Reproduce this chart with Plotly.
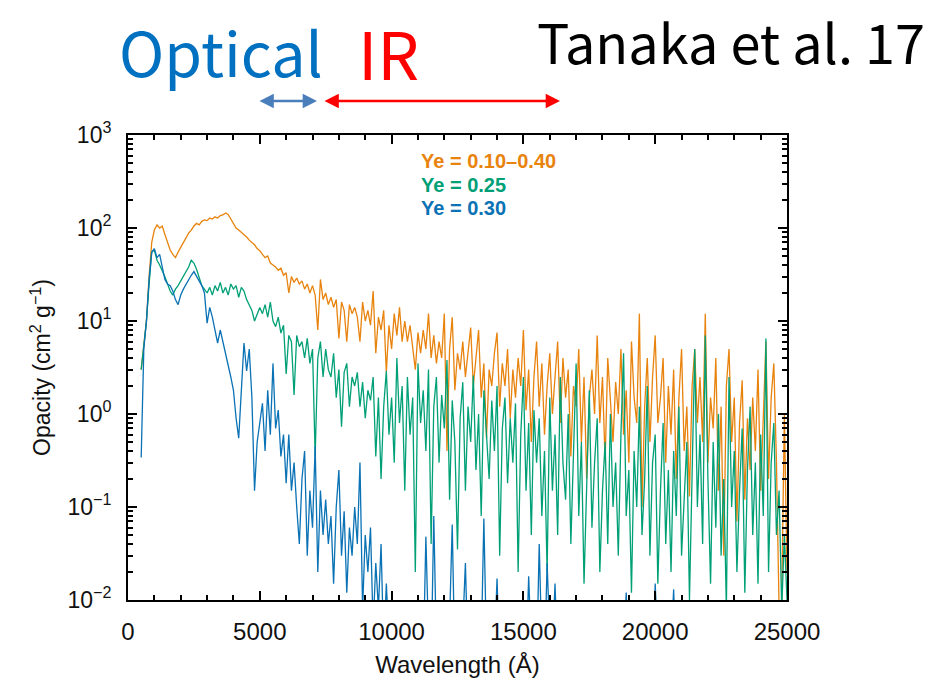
import plotly.graph_objects as go

# Wavelength sampling grid (Angstrom)
wavelength = list(range(500, 25001, 100))

# Opacity (cm^2 g^-1), Ye = 0.10-0.40 mixture
opacity_mix = [
    3, 6, 10, 30, 70, 95, 108, 100, 105, 85, 68,
    58, 52, 48, 55, 62, 70, 78, 88, 95, 105,
    112, 108, 118, 122, 120, 128, 125, 132, 128, 136,
    138, 145, 140, 125, 112, 100, 95, 90, 84, 80,
    74, 70, 66, 60, 57, 52, 48, 50, 42, 40,
    38, 35, 37, 31, 33, 20, 30, 26, 29, 25,
    27, 22, 25, 20, 24, 19, 8, 28, 17, 20,
    15, 18, 14, 17, 6.5, 16, 13, 6, 15, 12,
    14, 11, 6, 16, 10, 13, 9, 21, 4.5, 11,
    8, 13, 2.8, 9, 5, 12, 7, 14, 6, 10,
    6, 9, 5.5, 3, 7.5, 4.5, 8, 5, 12, 4,
    7, 3.5, 6, 4, 12, 0.4, 5, 11, 1.8, 4.5,
    3, 6, 2.5, 5, 8.5, 2, 4, 8, 1.5, 3.5,
    0.55, 3, 2, 4.5, 7.5, 1.2, 3.5, 2, 5, 0.9,
    3, 1.5, 4, 2, 8, 1.1, 3, 0.5, 2.5, 6,
    1.2, 3.5, 0.6, 2, 4.5, 1.0, 2.5, 6, 0.8, 4,
    1.5, 3, 0.35, 2, 1.2, 5, 0.5, 2.5, 0.2, 1.5,
    3, 1, 7, 0.8, 2.5, 0.3, 4, 1.2, 0.5, 2.2,
    1, 5, 0.6, 1.8, 0.3, 6, 1.5, 0.8, 12, 0.1,
    1.2, 4, 0.5, 2.5, 7, 0.8, 1.5, 4, 0.3, 2,
    0.6, 3, 0.2, 1.5, 5, 0.4, 1.2, 0.13, 2, 5,
    0.8, 2.5, 0.5, 12, 0.3, 1.5, 0.7, 4, 0.15, 1.2,
    0.03, 2, 5, 0.5, 1.5, 0.07, 0.8, 2.3, 0.12, 0.9,
    0.25, 1.5, 0.4, 3, 0.15, 0.9, 6, 0.2, 1.5, 3.5,
    0.3, 0.008, 0.01, 1.0, 0.02,
]

# Opacity, Ye = 0.25
opacity_ye025 = [
    3, 6, 10, 25, 55, 58, 45, 40, 35, 30, 25,
    21, 19, 22, 24, 27, 30, 34, 38, 45, 42,
    36, 30, 24, 22, 20, 23, 19, 24, 21, 26,
    20, 23, 19, 25, 22, 24, 18, 23, 21, 17,
    15, 13, 10, 12, 14, 12, 15, 11, 16, 10,
    8.7, 11, 7.4, 9, 2.7, 7, 6, 1.6, 7, 5.3,
    6, 4, 6.5, 3.5, 5, 0.35, 4, 6, 2.5, 5,
    3, 2.5, 4.5, 1.5, 3, 0.73, 2.8, 3.5, 1.2, 2.5,
    2, 2.8, 1.2, 2.2, 0.9, 1.8, 1.4, 2.5, 0.35, 1.5,
    0.2, 1.2, 2.9, 0.6, 1.5, 0.3, 4, 0.8, 2, 0.15,
    2.5, 0.6, 1.5, 0.02, 3.5, 0.8, 1.8, 0.4, 3, 0.04,
    1.2, 2.5, 0.3, 1.6, 0.7, 3.8, 0.12, 1.4, 0.5, 0.035,
    0.9, 2.2, 0.15, 1.2, 0.5, 2.6, 0.25, 1.0, 0.08, 1.8,
    0.6, 0.2, 1.4, 0.4, 2.0, 0.03, 0.7, 1.5, 0.18, 0.9,
    0.3, 1.3, 0.02, 0.6, 2.5, 0.15, 0.8, 0.05, 1.1, 0.3,
    0.9, 0.08, 0.4, 0.02, 1.5, 0.15, 0.6, 0.05, 2.5, 0.3,
    0.12, 1.0, 0.04, 0.3, 3.5, 0.08, 0.5, 0.015, 0.2, 1.8,
    0.06, 0.3, 0.9, 0.02, 0.15, 0.5, 0.04, 1.0, 0.1, 0.3,
    0.03, 0.6, 4.5, 0.08, 0.25, 0.012, 0.4, 0.1, 1.2, 0.05,
    0.2, 2.0, 0.03, 0.3, 0.6, 0.015, 0.15, 0.8, 0.04, 0.25,
    0.02, 0.4, 0.08, 1.2, 0.03, 0.15, 0.5, 0.01, 0.3, 5,
    0.1, 0.6, 0.04, 7, 0.2, 0.015, 0.5, 0.06, 1.0, 0.03,
    0.2, 0.008, 2.5, 0.1, 0.4, 0.02, 0.15, 0.7, 0.012, 0.25,
    1.2, 0.05, 0.3, 0.015, 0.6, 0.08, 6.5, 0.02, 0.3, 0.8,
    0.05, 0.15, 0.008, 0.05, 0.01,
]

# Opacity, Ye = 0.30
opacity_ye030 = [
    0.34, 5, 10, 28, 55, 60, 48, 52, 38, 28, 25,
    24, 21, 17, 15, 19, 22, 25, 28, 31, 34,
    30, 27, 24, 20, 9.5, 14, 11, 8, 5.8, 8,
    6, 4.5, 3.5, 2.5, 1.8, 0.9, 0.55, 2, 5.8, 2.9,
    5, 1.5, 0.15, 0.5, 0.8, 1.3, 0.4, 1.8, 0.6, 3.5,
    0.7, 1.1, 0.35, 0.6, 0.18, 0.6, 0.15, 0.3, 0.1, 0.04,
    0.2, 0.4, 0.03, 0.15, 0.06, 0.45, 0.02, 0.15, 0.05, 0.12,
    0.04, 0.08, 0.015, 0.1, 0.25, 0.03, 0.09, 0.012, 0.06, 0.03,
    0.1, 0.04, 0.3, 0.008, 0.05, 0.02, 0.06, 0.005, 0.025, 0.008,
    0.04, 0.003, 0.015, 0.004, 0.01, 0.002, 0.006, 0.002, 0.005, 0.002,
    0.003, 0.008, 0.002, 0.005, 0.003, 0.006, 0.002, 0.048, 0.004, 0.002,
    0.08, 0.003, 0.005, 0.002, 0.004, 0.003, 0.006, 0.065, 0.002, 0.004,
    0.003, 0.005, 0.025, 0.002, 0.004, 0.003, 0.006, 0.002, 0.003, 0.075,
    0.003, 0.002, 0.005, 0.003, 0.017, 0.002, 0.004, 0.003, 0.002, 0.005,
    0.003, 0.002, 0.006, 0.003, 0.004, 0.002, 0.018, 0.003, 0.005, 0.002,
    0.04, 0.003, 0.002, 0.025, 0.004, 0.003, 0.015, 0.002, 0.005, 0.003,
    0.002, 0.004, 0.003, 0.006, 0.002, 0.004, 0.003, 0.002, 0.005, 0.003,
    0.002, 0.003, 0.005, 0.002, 0.004, 0.003, 0.002, 0.006, 0.003, 0.002,
    0.004, 0.002, 0.003, 0.012, 0.002, 0.003, 0.004, 0.002, 0.003, 0.005,
    0.002, 0.003, 0.004, 0.002, 0.015, 0.003, 0.002, 0.004, 0.003, 0.002,
    0.003, 0.013, 0.002, 0.004, 0.003, 0.002, 0.005, 0.003, 0.002, 0.004,
    0.003, 0.002, 0.004, 0.003, 0.002, 0.005, 0.003, 0.002, 0.004, 0.003,
    0.002, 0.004, 0.003, 0.002, 0.011, 0.003, 0.002, 0.004, 0.003, 0.002,
    0.003, 0.002, 0.004, 0.003, 0.002, 0.004, 0.003, 0.002, 0.003, 0.004,
    0.002, 0.003, 0.002, 0.003, 0.002,
]

series_labels = ["Ye = 0.10\u20130.40", "Ye = 0.25", "Ye = 0.30"]
series_colors = ["#E8830E", "#00A077", "#0A72B5"]

x_tick_vals = [0, 5000, 10000, 15000, 20000, 25000]
y_tick_vals = [0.01, 0.1, 1, 10, 100, 1000]
y_tick_text = ["10<sup>\u22122</sup>", "10<sup>\u22121</sup>", "10<sup>0</sup>",
               "10<sup>1</sup>", "10<sup>2</sup>", "10<sup>3</sup>"]

for s in (opacity_mix, opacity_ye025, opacity_ye030):
    assert len(s) == len(wavelength), len(s)

W, H = 936, 681
L, R, T, B = 128, 787, 135, 600   # plot-area edges in pixels


def px(x):
    return (x - L) / (R - L)


def py(y):
    return (B - y) / (B - T)


fig = go.Figure()
for vals, name, col in zip((opacity_mix, opacity_ye025, opacity_ye030),
                           series_labels, series_colors):
    fig.add_trace(go.Scatter(x=wavelength, y=vals, mode="lines", name=name,
                             line=dict(color=col, width=1.3),
                             showlegend=False))

axis_font = dict(family="Liberation Sans, Arial, sans-serif", size=23, color="#111")
xtick_font = dict(family="Liberation Sans, Arial, sans-serif", size=24, color="#111")

fig.update_layout(
    width=W, height=H,
    margin=dict(l=L, r=W - R, t=T, b=H - B, autoexpand=False),
    paper_bgcolor="white", plot_bgcolor="white",
    font=axis_font,
    xaxis=dict(
        range=[0, 25000], tickvals=x_tick_vals,
        ticktext=[str(v) for v in x_tick_vals],
        ticks="inside", ticklen=9, tickwidth=2, tickcolor="black",
        minor=dict(dtick=1000, ticks="inside", ticklen=5, tickwidth=1.5,
                   tickcolor="black"),
        showline=True, linecolor="black", linewidth=2, mirror="ticks",
        showgrid=False, zeroline=False, automargin=False,
        tickfont=xtick_font, ticklabelstandoff=9,
        title=dict(text="Wavelength (\u00c5)", font=xtick_font, standoff=12),
    ),
    yaxis=dict(
        type="log", range=[-2, 3],
        tickvals=y_tick_vals, ticktext=y_tick_text,
        ticks="inside", ticklen=9, tickwidth=2, tickcolor="black",
        minor=dict(dtick="D1", ticks="inside", ticklen=5, tickwidth=1.5,
                   tickcolor="black"),
        showline=True, linecolor="black", linewidth=2, mirror="ticks",
        showgrid=False, zeroline=False, automargin=False,
        tickfont=axis_font, ticklabelstandoff=10,
        title=dict(text="Opacity (cm<sup>2</sup> g<sup>\u22121</sup>)",
                   font=axis_font, standoff=10),
    ),
)

# Series labels inside the plot
label_rows = [161, 185, 208]
for txt, col, yy in zip(series_labels, series_colors, label_rows):
    fig.add_annotation(xref="paper", yref="paper", x=px(419), y=py(yy),
                       xanchor="left", yanchor="middle", showarrow=False,
                       text=f"<b>{txt}</b>",
                       font=dict(family="Liberation Sans, Arial, sans-serif",
                                 size=20, color=col))

head_font = "Noto Sans CJK JP"
# Band headings and citation above the plot
fig.add_annotation(xref="paper", yref="paper", x=px(117), y=py(51),
                   xanchor="left", yanchor="middle", showarrow=False,
                   text="Optical", font=dict(family=head_font, size=61, color="#0070C0"))
fig.add_annotation(xref="paper", yref="paper", x=px(356), y=py(51),
                   xanchor="left", yanchor="middle", showarrow=False,
                   text="IR", font=dict(family=head_font, size=66, color="#FF0000"))
fig.add_annotation(xref="paper", yref="paper", x=px(926), y=py(0),
                   xanchor="right", yanchor="top", showarrow=False, borderpad=0,
                   text="Tanaka et al. 17", font=dict(family=head_font, size=54, color="black"))

# Double-headed range arrows
for x0, x1, col in ((258, 317, "#4A7EBB"), (323, 560, "#FF0000")):
    fig.add_annotation(xref="paper", yref="paper", x=px(x1), y=py(101),
                       ax=x0 - x1, ay=0, axref="pixel", ayref="pixel",
                       text="", showarrow=True, arrowside="end+start",
                       arrowhead=2, arrowsize=1.1, arrowwidth=2.6,
                       arrowcolor=col, standoff=0, startstandoff=0)

fig.write_html("out.html")
